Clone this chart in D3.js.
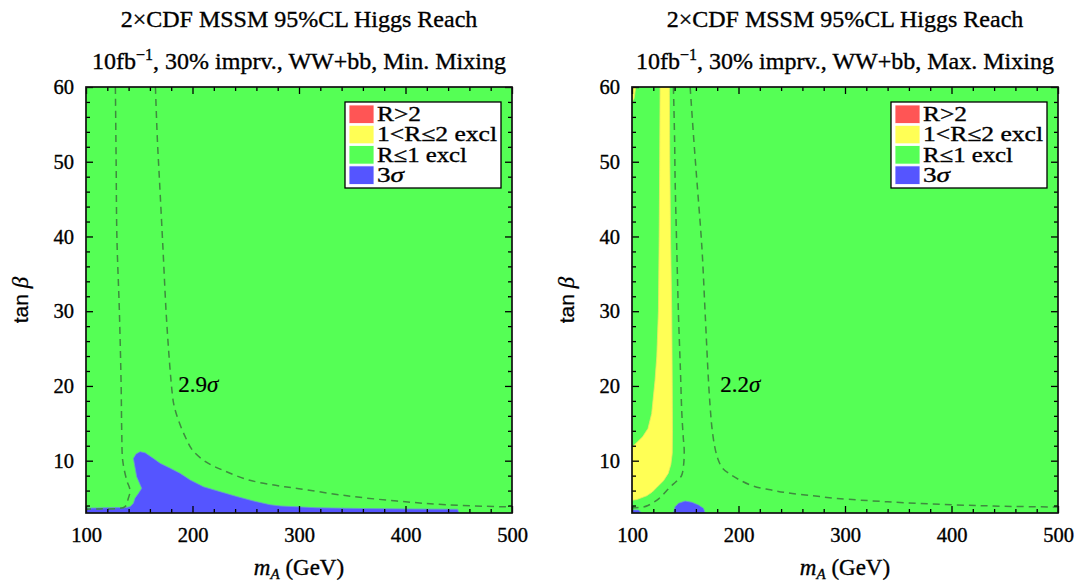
<!DOCTYPE html>
<html><head><meta charset="utf-8">
<script src="https://cdn.jsdelivr.net/npm/d3@7"></script>
<style>
body{margin:0;background:#fff}
svg{display:block}
text{font-family:"Liberation Serif","Times New Roman",serif;fill:#000;stroke:#000;stroke-width:0.35px}
</style>
</head><body>
<svg id="c" width="1077" height="585"></svg>
<script>
// ---------- data ----------
const titleLine = "2×CDF MSSM 95%CL Higgs Reach";
const mixingLabels = ["Min. Mixing", "Max. Mixing"];
const sigmaLabels = ["2.9", "2.2"];
const sigmaLabelPos = [[186.6, 19.2], [182.8, 19.2]];
const xTickValues = [100, 200, 300, 400, 500];
const xMinorTickValues = [120, 140, 160, 180, 220, 240, 260, 280, 320, 340, 360, 380, 420, 440, 460, 480];
const yTickValues = [10, 20, 30, 40, 50, 60];
const yMinorTickValues = [4, 6, 8, 12, 14, 16, 18, 22, 24, 26, 28, 32, 34, 36, 38, 42, 44, 46, 48, 52, 54, 56, 58];
const xDomain = [100, 500];
const yDomain = [3, 60];
const legendLabels = ["R>2", "1<R≤2 excl", "R≤1 excl", "3"];

// Min mixing: 3 sigma region and dashed contours (mA, tanβ)
const minBlue = [[100,3],[100,3.65],[120,3.7],[138,3.75],[141.4,3.85],[144.5,4.3],[146.1,5],[149.2,5.6],[152.3,6.3],[147.6,7.86],[144.5,10.3],[147,10.9],[150.8,11.2],[155.5,11.05],[163.3,10.3],[169.6,9.65],[179,9],[188.5,8.3],[197.9,7.4],[210.4,6.5],[226,5.85],[241.6,5.2],[257.4,4.6],[273,4.1],[282.6,3.94],[317,3.7],[360,3.6],[400,3.55],[449,3.5],[450,3]];
const minDash1 = [[127.6,60],[128.3,50],[129,40],[131.4,29.7],[133,20],[133.6,13.6],[134.5,10],[138.2,7.4],[141.4,6],[139.8,5],[136.7,3.85],[130,3.6],[113,3.55],[100,3.5]];
const minDash2 = [[165.2,60],[167,53],[169,47.5],[172.2,38.6],[175.3,29.7],[178.5,23],[181,19],[182.5,17.5],[186.8,15.4],[193.5,13.1],[200,11.4],[213,9.8],[229,8.7],[252,7.45],[278,6.7],[300,6.25],[345,5.3],[392,4.6],[439,4.1],[500,3.8]];

// Max mixing
const maxYellow = [[126.4,60],[126,50],[125.5,40],[124.8,30],[123.3,24],[121.6,20.7],[118.5,16.3],[115,14.3],[110,13.2],[105,12.5],[100,11.8],[100,4.7],[104.4,4.8],[113.8,5.3],[119,5.8],[123.2,6.4],[129.5,7.3],[134,8.3],[136.5,9.5],[137.8,11],[138,14],[137.8,20],[137.3,30],[136.2,40],[135.5,50],[135.1,60]];
const maxYellowCorner = [[100,60],[103.5,60],[102,58.5],[100,58]];
const maxBlueBump = [[138.9,3],[140.5,3.84],[143.6,4.29],[149.9,4.6],[156.2,4.43],[162.4,4.07],[167.1,3.63],[168.7,3]];
const maxBlueCorner = [[100,3],[100,3.4],[106,3.4],[109,3]];
const maxDash1 = [[138.9,60],[140,53],[140.5,47.5],[142,38.6],[143.6,29.7],[145.5,22],[146.8,16.3],[148.2,13],[149,11.5],[148.5,9.5],[146.5,8],[143,7.4],[139,6.9],[134,6.2],[129.5,5.5],[125,4.9],[120,4.4],[115,4.0],[110.7,3.8],[100,3.7]];
const maxDash2 = [[154.6,60],[158,53],[160.9,47.5],[165.6,38.6],[168.7,29.7],[171.8,20.7],[173.5,17],[175,14.5],[177.5,12],[180.5,10.3],[185,9],[192,8.2],[200,7.5],[214,6.6],[230,6.1],[245.6,5.7],[270,5.3],[292.7,4.95],[340,4.5],[402,4.1],[450,3.9],[500,3.8]];

// ---------- drawing ----------
const COL = {red:"#ff5555", yellow:"#ffff55", green:"#55ff55", blue:"#5555ff"};
const legendColors = [COL.red, COL.yellow, COL.green, COL.blue];
const svg = d3.select("#c");

const panels = [
  {x0: 86, yellow: [], blue: [minBlue], dashes: [minDash1, minDash2]},
  {x0: 632, yellow: [maxYellow, maxYellowCorner], blue: [maxBlueBump, maxBlueCorner], dashes: [maxDash1, maxDash2]}
];
const W = 426, plotTop = 87, plotBottom = 513;

panels.forEach((p, i) => {
  const x = d3.scaleLinear().domain(xDomain).range([p.x0, p.x0 + W]);
  const y = d3.scaleLinear().domain(yDomain).range([plotBottom, plotTop]);
  const g = svg.append("g");
  const cx = p.x0 + W / 2;

  // titles
  g.append("text").attr("x", cx).attr("y", 27).attr("text-anchor", "middle")
    .style("font-size", "24px").text(titleLine);
  const st = g.append("text").attr("x", cx).attr("y", 69).attr("text-anchor", "middle").style("font-size", "24px");
  st.append("tspan").text("10fb");
  st.append("tspan").attr("dy", "-9").style("font-size", "16px").text("−1");
  st.append("tspan").attr("dy", "9").text(", 30% imprv., WW+bb, " + mixingLabels[i]);

  const clipId = "clip" + i;
  svg.append("clipPath").attr("id", clipId).append("rect")
    .attr("x", p.x0).attr("y", plotTop).attr("width", W).attr("height", plotBottom - plotTop);
  const plot = g.append("g").attr("clip-path", `url(#${clipId})`);

  plot.append("rect").attr("x", p.x0).attr("y", plotTop).attr("width", W).attr("height", plotBottom - plotTop)
    .attr("fill", COL.green);

  const area = d3.line().x(d => x(d[0])).y(d => y(d[1])).curve(d3.curveLinearClosed);
  p.yellow.forEach(poly => plot.append("path").attr("d", area(poly)).attr("fill", COL.yellow)
    .attr("stroke", "#e8e860").attr("stroke-width", 0.8));
  p.blue.forEach(poly => plot.append("path").attr("d", area(poly)).attr("fill", COL.blue)
    .attr("stroke", "#6a9ad0").attr("stroke-width", 0.8));

  const line = d3.line().x(d => x(d[0])).y(d => y(d[1])).curve(d3.curveCatmullRom.alpha(0.5));
  p.dashes.forEach(pts => plot.append("path").attr("d", line(pts)).attr("fill", "none")
    .attr("stroke", "#3f8a3f").attr("stroke-width", 1.5).attr("stroke-dasharray", "7,5"));

  // sigma label
  const sl = g.append("text").attr("x", x(sigmaLabelPos[i][0])).attr("y", y(sigmaLabelPos[i][1]))
    .style("font-size", "23px").style("stroke-width", "0.2px");
  sl.append("tspan").text(sigmaLabels[i]);
  sl.append("tspan").style("font-style", "italic").text("σ");

  // axes
  const mk = (axisFn, scale, vals, size, labels, tx, ty) => {
    const a = axisFn(scale).tickValues(vals).tickSize(-size).tickPadding(labels ? (axisFn === d3.axisBottom ? 14 : 12) : 0);
    if (!labels) a.tickFormat("");
    const ag = g.append("g").attr("transform", `translate(${tx},${ty})`).call(a);
    ag.select(".domain").remove();
    ag.selectAll("line").attr("stroke", "#000").attr("stroke-width", 1.3);
    ag.selectAll("text").style("font-size", "20.5px").style("font-family", '"Liberation Serif","Times New Roman",serif');
    return ag;
  };
  mk(d3.axisBottom, x, xTickValues, 7, true, 0, plotBottom);
  mk(d3.axisBottom, x, xMinorTickValues, 4, false, 0, plotBottom);
  mk(d3.axisTop, x, xTickValues, 7, false, 0, plotTop);
  mk(d3.axisTop, x, xMinorTickValues, 4, false, 0, plotTop);
  mk(d3.axisLeft, y, yTickValues, 7, true, p.x0, 0);
  mk(d3.axisLeft, y, yMinorTickValues, 4, false, p.x0, 0);
  mk(d3.axisRight, y, yTickValues, 7, false, p.x0 + W, 0);
  mk(d3.axisRight, y, yMinorTickValues, 4, false, p.x0 + W, 0);

  g.append("rect").attr("x", p.x0).attr("y", plotTop).attr("width", W).attr("height", plotBottom - plotTop)
    .attr("fill", "none").attr("stroke", "#111").attr("stroke-width", 1.7);

  // axis titles
  const xl = g.append("text").attr("x", cx).attr("y", 575).attr("text-anchor", "middle").style("font-size", "23px");
  xl.append("tspan").style("font-style", "italic").text("m");
  xl.append("tspan").style("font-style", "italic").style("font-size", "15px").attr("dy", "4").text("A");
  xl.append("tspan").attr("dy", "-4").text(" (GeV)");

  const yl = g.append("text").attr("transform", `translate(${p.x0 - 58},${(plotTop + plotBottom) / 2}) rotate(-90)`)
    .attr("text-anchor", "middle").style("font-size", "21px").style("stroke-width", "0.25px");
  yl.append("tspan").style("font-family", '"Liberation Sans",Arial,sans-serif').text("tan ");
  yl.append("tspan").style("font-style", "italic").style("font-size", "23px").text("β");

  // legend
  const lx = p.x0 + 259, ly = 102;
  const lg = g.append("g");
  lg.append("rect").attr("x", lx).attr("y", ly).attr("width", 156).attr("height", 86)
    .attr("fill", "#fff").attr("stroke", "#000").attr("stroke-width", 1.3);
  const lwidths = [44, 120, 90, 27];
  legendLabels.forEach((lab, k) => {
    lg.append("rect").attr("x", lx + 4).attr("y", ly + 3 + k * 20.3).attr("width", 25).attr("height", 18.5)
      .attr("fill", legendColors[k]).attr("stroke", "#fff").attr("stroke-width", 0.8);
    const t = lg.append("text").attr("x", lx + 32).attr("y", ly + 19 + k * 20.3)
      .style("font-size", "20.5px").attr("textLength", lwidths[k]).attr("lengthAdjust", "spacingAndGlyphs");
    t.append("tspan").text(lab);
    if (k === 3) t.append("tspan").style("font-style", "italic").text("σ");
  });
});
</script>
</body></html>
